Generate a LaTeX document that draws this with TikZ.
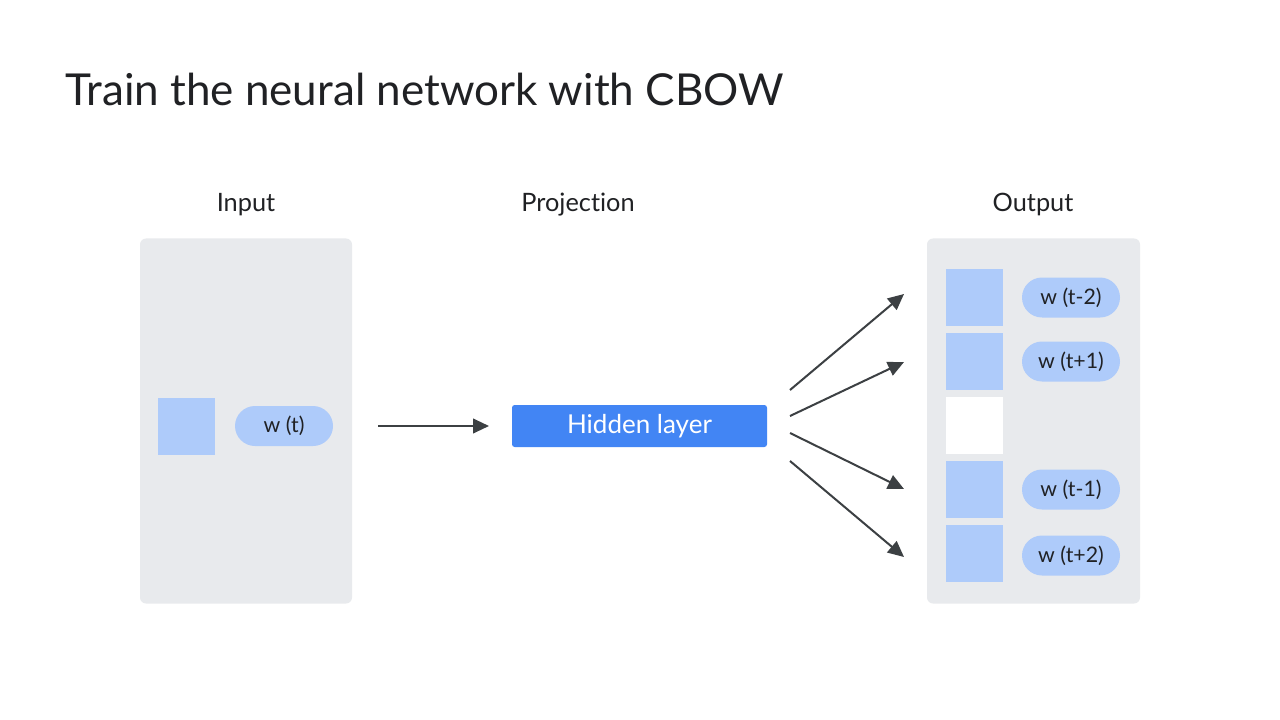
\documentclass[tikz,border=0pt]{standalone}
\usepackage{fontspec}
\setmainfont[Ligatures=NoCommon]{Lato}
\usetikzlibrary{arrows.meta}
\definecolor{panel}{HTML}{E8EAED}
\definecolor{lblue}{HTML}{AECBFA}
\definecolor{gblue}{HTML}{4285F4}
\definecolor{ink}{HTML}{202124}
\definecolor{arrowc}{HTML}{3C4043}
\tikzset{
  panelbox/.style={fill=panel, rounded corners=4.5pt, draw=none},
  sq/.style={fill=lblue, draw=none, minimum width=42.75pt, minimum height=42.75pt, inner sep=0pt},
  wsq/.style={fill=white, draw=none, minimum width=42.75pt, minimum height=42.75pt, inner sep=0pt},
  pill/.style={fill=lblue, draw=none, rounded corners=15pt, minimum width=73.5pt, minimum height=30pt, inner sep=0pt, text=ink, font=\fontsize{16}{18}\selectfont},
  hid/.style={fill=gblue, draw=none, rounded corners=2pt, minimum width=191.25pt, minimum height=31.5pt, inner sep=0pt, text=white, font=\fontsize{19.5}{22}\selectfont},
  lab/.style={text=ink, font=\fontsize{19}{21}\selectfont, anchor=base},
  conn/.style={draw=arrowc, line width=1.5pt, -{Triangle[length=12pt,width=11pt]}},
}
\begin{document}
\begin{tikzpicture}[x=0.75pt,y=-0.75pt]
\fill[white] (0,0) rectangle (1280,720);
\useasboundingbox (0,0) rectangle (1280,720);
\node[anchor=base west, inner sep=0pt, text=ink, font=\fontsize{33}{36}\selectfont] (title) at (65,106) {Train the neural network with CBOW};
\node[lab] (linput) at (246,212) {Input};
\node[lab] (lproj) at (578,212) {Projection};
\node[lab] (lout) at (1033,212) {Output};
% panels
\node[panelbox, minimum width=159pt, minimum height=273.75pt, inner sep=0pt] (inpanel) at (246,421) {};
\node[panelbox, minimum width=159.75pt, minimum height=273.75pt, inner sep=0pt] (outpanel) at (1033.5,421) {};
% input
\node[sq] (insq) at (186.5,426) {};
\node[pill] (wt) at (284,426) {w (t)};
% hidden
\node[hid] (hidden) at (639.5,426) {Hidden layer};
\coordinate (a0s) at (378,426);
\coordinate (a0e) at (489,426);
\draw[conn] (a0s) -- (a0e);
% output squares
\node[sq] (o1) at (974.5,297.5) {};
\node[sq] (o2) at (974.5,361.5) {};
\node[wsq] (o3) at (974.5,425.5) {};
\node[sq] (o4) at (974.5,489.5) {};
\node[sq] (o5) at (974.5,553.5) {};
\node[pill] (p1) at (1071,297.5) {w (t-2)};
\node[pill] (p2) at (1071,361.5) {w (t+1)};
\node[pill] (p4) at (1071,489.5) {w (t-1)};
\node[pill] (p5) at (1071,555.5) {w (t+2)};
% fan arrows
\coordinate (s1) at (790,390);
\coordinate (e1) at (904,294);
\coordinate (s2) at (790,416);
\coordinate (e2) at (904,362);
\coordinate (s3) at (790,433);
\coordinate (e3) at (904,489);
\coordinate (s4) at (790,461);
\coordinate (e4) at (904,557);
\draw[conn] (s1) -- (e1);
\draw[conn] (s2) -- (e2);
\draw[conn] (s3) -- (e3);
\draw[conn] (s4) -- (e4);
\end{tikzpicture}
\end{document}
